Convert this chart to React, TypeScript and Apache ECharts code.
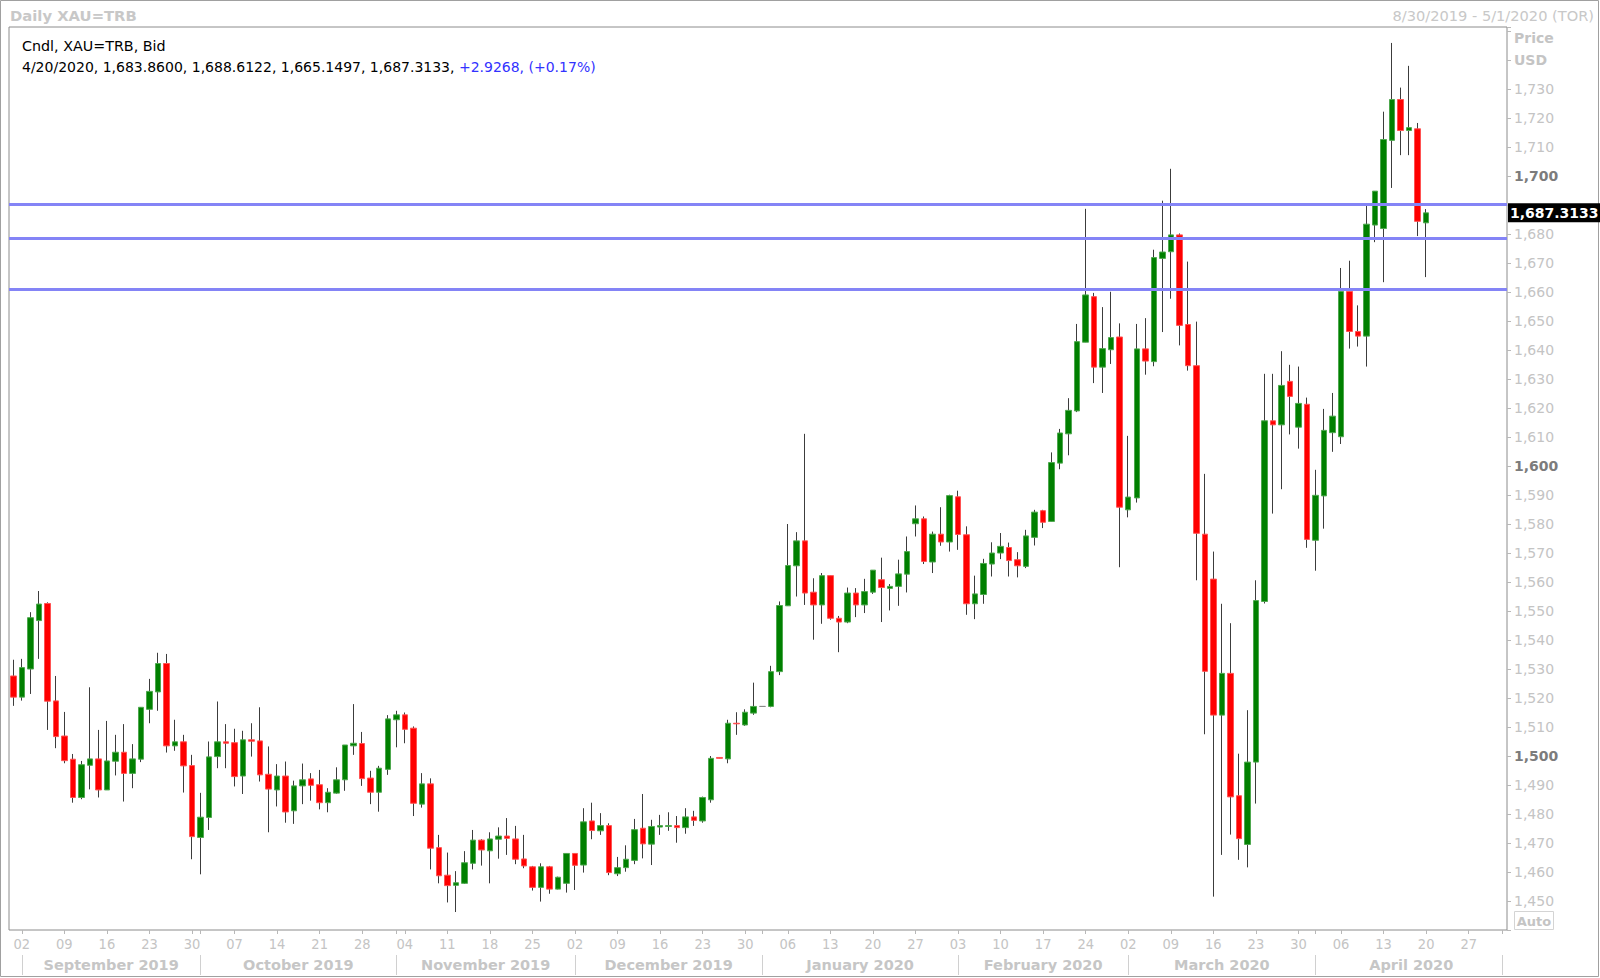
import React, { useEffect, useRef } from 'react';
import * as echarts from 'echarts';

const SYMBOL = 'XAU=TRB';
const START_DATE = '2019-08-30';
const END_DATE = '2020-05-01';

const opens = [
  1527.6, 1520.3, 1530.0, 1546.7, 1552.6, 1519.0, 1506.9, 1498.9, 1485.7, 1496.8,
  1499.0, 1488.3, 1498.2, 1501.3, 1494.0, 1498.9, 1516.1, 1522.1, 1531.9, 1503.5,
  1504.9, 1496.7, 1471.9, 1478.8, 1499.8, 1504.9, 1504.6, 1493.1, 1505.6, 1505.2,
  1493.7, 1488.3, 1493.1, 1481.1, 1489.7, 1492.1, 1490.1, 1483.9, 1487.2, 1491.8,
  1503.5, 1504.3, 1492.4, 1487.5, 1495.4, 1512.5, 1514.2, 1509.6, 1483.4, 1490.4,
  1468.4, 1458.9, 1455.4, 1456.1, 1463.0, 1471.0, 1467.3, 1471.3, 1472.4, 1471.4,
  1464.5, 1461.8, 1454.7, 1461.8, 1454.1, 1456.1, 1466.4, 1462.4, 1477.6, 1474.2,
  1476.0, 1459.4, 1461.5, 1464.0, 1475.1, 1469.6, 1475.5, 1475.7, 1476.0, 1475.3,
  1479.0, 1477.6, 1484.9, 1499.5, 1499.0, 1511.3, 1510.7, 1514.8, 1517.1, 1517.1,
  1529.1, 1551.8, 1565.6, 1574.2, 1556.5, 1552.1, 1562.2, 1547.5, 1546.2, 1556.2,
  1552.1, 1556.5, 1560.8, 1557.8, 1558.5, 1562.7, 1580.1, 1581.8, 1566.9, 1576.5,
  1573.8, 1589.4, 1576.3, 1552.5, 1555.7, 1566.2, 1570.0, 1571.9, 1567.7, 1565.4,
  1575.4, 1584.6, 1580.9, 1601.0, 1611.1, 1619.0, 1642.7, 1658.4, 1634.1, 1640.1,
  1644.5, 1584.9, 1589.0, 1640.4, 1636.0, 1671.6, 1673.9, 1679.7, 1648.8, 1634.6,
  1576.5, 1561.0, 1514.1, 1528.5, 1486.3, 1469.5, 1497.9, 1553.3, 1615.6, 1614.2,
  1629.2, 1613.4, 1621.3, 1574.4, 1589.7, 1611.5, 1610.1, 1660.2, 1646.4, 1644.8,
  1683.1, 1681.9, 1712.3, 1726.4, 1715.7, 1716.3, 1683.86,
];

const highs = [
  1533.2, 1533.5, 1549.6, 1556.9, 1553.0, 1527.6, 1515.2, 1500.7, 1498.3, 1523.7,
  1509.0, 1512.1, 1507.3, 1511.0, 1504.1, 1516.8, 1526.6, 1535.6, 1535.2, 1512.5,
  1507.3, 1500.4, 1487.3, 1505.0, 1518.8, 1511.0, 1509.4, 1508.7, 1511.3, 1516.8,
  1503.3, 1497.2, 1498.1, 1491.5, 1497.4, 1494.1, 1495.2, 1488.9, 1496.1, 1503.8,
  1517.9, 1508.3, 1494.9, 1496.6, 1514.1, 1515.6, 1515.0, 1510.2, 1494.1, 1492.3,
  1472.8, 1466.7, 1460.3, 1467.2, 1474.5, 1471.3, 1473.7, 1475.4, 1478.6, 1475.9,
  1472.8, 1462.1, 1463.0, 1462.1, 1458.4, 1466.4, 1466.4, 1482.0, 1483.9, 1480.3,
  1476.8, 1465.2, 1469.2, 1478.3, 1486.9, 1478.0, 1479.7, 1480.6, 1479.3, 1482.0,
  1481.1, 1486.0, 1500.0, 1499.5, 1512.5, 1515.1, 1516.1, 1525.3, 1517.1, 1531.1,
  1553.3, 1580.0, 1577.2, 1611.1, 1561.3, 1563.1, 1562.2, 1548.3, 1558.1, 1557.9,
  1561.1, 1564.1, 1568.4, 1559.3, 1567.7, 1575.7, 1586.4, 1582.6, 1577.4, 1585.8,
  1590.1, 1591.5, 1579.2, 1562.2, 1568.0, 1573.7, 1576.9, 1573.6, 1570.3, 1578.0,
  1584.9, 1584.9, 1604.7, 1612.8, 1623.4, 1649.0, 1688.7, 1659.7, 1654.8, 1660.1,
  1649.2, 1610.4, 1649.0, 1651.0, 1674.6, 1691.5, 1702.5, 1680.2, 1670.5, 1649.8,
  1597.3, 1570.5, 1552.5, 1545.8, 1500.8, 1515.8, 1560.6, 1631.8, 1631.8, 1639.6,
  1634.9, 1634.3, 1623.6, 1598.7, 1619.7, 1625.2, 1668.3, 1670.8, 1655.4, 1689.8,
  1694.8, 1722.2, 1745.9, 1730.5, 1738.0, 1718.3, 1688.6122,
];

const lows = [
  1517.3, 1519.1, 1521.4, 1533.5, 1509.0, 1502.7, 1497.5, 1483.9, 1485.1, 1488.5,
  1485.7, 1488.3, 1493.3, 1484.3, 1488.9, 1497.9, 1511.3, 1515.6, 1501.2, 1501.8,
  1487.4, 1464.4, 1459.2, 1474.5, 1495.8, 1495.8, 1489.5, 1486.9, 1499.8, 1491.2,
  1473.7, 1482.6, 1477.0, 1476.6, 1483.4, 1484.6, 1481.6, 1480.6, 1487.0, 1488.0,
  1500.4, 1489.7, 1483.4, 1480.8, 1493.5, 1503.0, 1504.4, 1479.3, 1482.2, 1460.9,
  1456.1, 1449.5, 1446.2, 1455.9, 1460.9, 1462.2, 1456.1, 1464.6, 1465.9, 1462.7,
  1461.3, 1453.6, 1449.8, 1452.5, 1454.0, 1452.9, 1453.8, 1459.8, 1471.3, 1472.8,
  1458.9, 1458.6, 1460.1, 1462.7, 1464.7, 1462.4, 1472.8, 1474.2, 1470.1, 1473.2,
  1475.9, 1477.0, 1483.9, 1499.2, 1497.5, 1507.3, 1510.4, 1514.2, 1517.1, 1516.8,
  1527.9, 1551.8, 1555.0, 1552.1, 1540.1, 1545.6, 1547.0, 1535.8, 1545.8, 1547.9,
  1549.3, 1555.9, 1546.2, 1550.2, 1551.8, 1556.4, 1575.7, 1566.2, 1563.1, 1572.5,
  1570.5, 1571.1, 1548.7, 1547.2, 1552.5, 1561.9, 1567.9, 1561.9, 1561.6, 1564.8,
  1572.6, 1578.6, 1580.9, 1598.9, 1603.7, 1618.6, 1642.7, 1628.6, 1625.2, 1635.2,
  1565.1, 1582.3, 1587.4, 1631.5, 1634.4, 1646.2, 1657.7, 1641.6, 1632.9, 1560.6,
  1507.5, 1451.5, 1465.9, 1472.9, 1464.2, 1461.6, 1483.6, 1552.6, 1583.6, 1592.0,
  1610.9, 1606.0, 1571.8, 1563.9, 1578.4, 1604.9, 1607.6, 1640.5, 1641.2, 1634.3,
  1677.2, 1663.4, 1695.9, 1707.2, 1707.2, 1679.3, 1665.1497,
];

const closes = [
  1520.3, 1530.5, 1547.7, 1552.4, 1518.9, 1506.7, 1498.4, 1485.7, 1497.0, 1499.0,
  1488.3, 1498.3, 1501.3, 1494.0, 1499.0, 1516.8, 1522.3, 1531.9, 1503.5, 1504.9,
  1496.6, 1472.2, 1478.9, 1499.7, 1504.9, 1504.4, 1492.9, 1505.6, 1505.1, 1493.5,
  1488.6, 1493.1, 1480.7, 1489.7, 1491.8, 1489.9, 1483.9, 1487.5, 1491.8, 1503.8,
  1504.4, 1492.2, 1487.5, 1495.8, 1512.8, 1514.2, 1509.2, 1483.7, 1490.4, 1468.2,
  1458.7, 1455.3, 1456.3, 1463.2, 1471.0, 1467.6, 1471.4, 1472.4, 1471.6, 1464.4,
  1462.1, 1454.7, 1461.8, 1454.1, 1458.2, 1466.4, 1462.3, 1477.3, 1474.3, 1476.0,
  1459.8, 1461.5, 1464.4, 1474.6, 1469.7, 1475.7, 1476.0, 1476.0, 1475.3, 1479.0,
  1477.8, 1485.7, 1499.2, 1499.2, 1511.3, 1511.1, 1515.1, 1517.1, 1517.1, 1529.1,
  1551.9, 1565.7, 1574.2, 1556.2, 1552.1, 1562.2, 1547.5, 1546.2, 1556.2, 1552.1,
  1556.7, 1564.1, 1558.1, 1558.5, 1562.8, 1570.5, 1581.8, 1567.1, 1576.5, 1573.8,
  1589.8, 1576.4, 1552.5, 1555.9, 1566.4, 1570.0, 1572.3, 1567.4, 1565.6, 1575.9,
  1584.1, 1580.6, 1601.2, 1611.4, 1619.2, 1642.9, 1659.0, 1634.1, 1640.5, 1644.3,
  1585.8, 1589.3, 1640.4, 1636.2, 1671.9, 1673.8, 1679.7, 1648.5, 1634.6, 1576.8,
  1529.2, 1514.1, 1528.5, 1485.9, 1471.5, 1497.9, 1553.6, 1615.6, 1614.2, 1627.8,
  1624.0, 1621.6, 1574.7, 1589.9, 1612.3, 1617.2, 1660.2, 1646.4, 1644.8, 1683.4,
  1694.8, 1712.6, 1726.4, 1715.7, 1716.7, 1684.3865, 1687.3133,
];

const levels = [1690.4, 1678.4, 1660.8];

const Y_MIN = 1440;
const Y_MAX = 1751.4;
const Y_STEP = 10;

const MONTHS = ['January', 'February', 'March', 'April', 'May', 'June', 'July',
  'August', 'September', 'October', 'November', 'December'];

const FONT = '"DejaVu Sans", Verdana, sans-serif';
const FONT_NARROW = '"DejaVu Sans Condensed", "DejaVu Sans", sans-serif';

const GRID_LEFT = 9;
const GRID_TOP = 27;
const GRID_WIDTH = 1498;
const GRID_HEIGHT = 903;

function weekdayDates(start: string, end: string): string[] {
  const out: string[] = [];
  const d = new Date(start + 'T00:00:00Z');
  const e = new Date(end + 'T00:00:00Z');
  while (d.getTime() <= e.getTime()) {
    const w = d.getUTCDay();
    if (w !== 0 && w !== 6) out.push(d.toISOString().slice(0, 10));
    d.setUTCDate(d.getUTCDate() + 1);
  }
  return out;
}

function usDate(s: string) {
  const [y, m, d] = s.split('-');
  return `${+m}/${+d}/${y}`;
}

function fmt4(v: number) {
  return v.toLocaleString('en-US', { minimumFractionDigits: 4, maximumFractionDigits: 4 });
}

function buildOption() {
  const dates = weekdayDates(START_DATE, END_DATE);
  const n = opens.length;
  const SLOT = GRID_WIDTH / dates.length;

  const isMonday = dates.map((s) => new Date(s + 'T00:00:00Z').getUTCDay() === 1);
  const monthFirsts: number[] = [];
  dates.forEach((s, i) => {
    if (i > 0 && s.slice(5, 7) !== dates[i - 1].slice(5, 7)) monthFirsts.push(i);
  });
  const isMonthFirst = dates.map((_, i) => monthFirsts.includes(i));

  const monthLabels: Record<number, { text: string; key: string }> = {};
  const rich: Record<string, any> = {};
  for (let k = 0; k < monthFirsts.length; k++) {
    const a = monthFirsts[k];
    const b = k + 1 < monthFirsts.length ? monthFirsts[k + 1] : -1;
    if (b < 0) break;
    const isLast = k + 2 >= monthFirsts.length;
    const end = isLast ? dates.length - 0.5 : b;
    const mid = (a + end) / 2;
    const idx = Math.floor(mid);
    const frac = mid - idx;
    const key = 'm' + k;
    rich[key] = {
      color: '#c6c6c6', fontWeight: 'bold', fontSize: 14.5, fontFamily: FONT,
      padding: [0, 0, 0, 2 * frac * SLOT],
    };
    const s = dates[a];
    monthLabels[idx] = { text: `${MONTHS[+s.slice(5, 7) - 1]} ${s.slice(0, 4)}`, key };
  }

  const wickData = opens.map((o, i) => [o, closes[i], lows[i], highs[i]]);
  const bodyData = opens.map((o, i) => [o, closes[i], Math.min(o, closes[i]), Math.max(o, closes[i])]);

  const lastO = opens[n - 1];
  const lastH = highs[n - 1];
  const lastL = lows[n - 1];
  const lastC = closes[n - 1];
  const prevC = closes[n - 2];
  const chg = lastC - prevC;
  const pct = (chg / prevC) * 100;
  const sign = chg >= 0 ? '+' : '-';

  const line2a = `${usDate(dates[n - 1])}, ${fmt4(lastO)}, ${fmt4(lastH)}, ${fmt4(lastL)}, ${fmt4(lastC)}, `;
  const line2b = `${sign}${Math.abs(chg).toFixed(4)}, (${sign}${Math.abs(pct).toFixed(2)}%)`;

  return {
    animation: false,
    backgroundColor: '#ffffff',
    grid: {
      left: GRID_LEFT, top: GRID_TOP, width: GRID_WIDTH, height: GRID_HEIGHT,
      show: true, borderColor: '#8c8c8c', borderWidth: 1, backgroundColor: '#ffffff',
    },
    xAxis: [
      {
        type: 'category',
        data: dates,
        boundaryGap: true,
        position: 'bottom',
        axisLine: { show: false },
        axisTick: {
          show: true, alignWithLabel: true, length: 4,
          interval: (i: number) => isMonday[i] || isMonthFirst[i],
          lineStyle: { color: '#b8b8b8' },
        },
        axisLabel: {
          interval: (i: number) => isMonday[i],
          formatter: (v: string) => v.slice(8, 10),
          color: '#c4c4c4', fontSize: 14.5, fontFamily: FONT_NARROW, margin: 6,
        },
        splitLine: { show: false },
      },
      {
        type: 'category',
        data: dates,
        boundaryGap: true,
        position: 'bottom',
        offset: 25,
        axisLine: { show: false },
        axisTick: {
          show: true, alignWithLabel: true, length: 20,
          interval: (i: number) => isMonthFirst[i],
          lineStyle: { color: '#d0d0d0' },
        },
        axisLabel: {
          interval: (i: number) => monthLabels[i] !== undefined,
          formatter: (_v: string, i: number) => {
            const m = monthLabels[i];
            return m ? `{${m.key}|${m.text}}` : '';
          },
          rich,
          margin: 2,
        },
        splitLine: { show: false },
      },
    ],
    yAxis: {
      type: 'value',
      position: 'right',
      min: Y_MIN,
      max: Y_MAX,
      interval: Y_STEP,
      axisLine: { show: false },
      axisTick: { show: true, length: 4, lineStyle: { color: '#b8b8b8' } },
      splitLine: { show: false },
      axisLabel: {
        margin: 7,
        formatter: (v: number) => {
          if (v > 1735 || v < 1445 || Math.abs(v - 1690) < 0.01) return '';
          const s = Math.round(v).toLocaleString('en-US');
          return Math.round(v) % 100 === 0 ? `{b|${s}}` : `{n|${s}}`;
        },
        rich: {
          b: { color: '#7c7c7c', fontWeight: 'bold', fontSize: 14, fontFamily: FONT },
          n: { color: '#c4c4c4', fontSize: 14, fontFamily: FONT },
        },
      },
    },
    series: [
      {
        type: 'candlestick',
        name: 'wicks',
        data: wickData,
        barWidth: 1,
        silent: true,
        itemStyle: {
          color: '#3c3c3c', color0: '#3c3c3c',
          borderColor: '#3c3c3c', borderColor0: '#3c3c3c', borderColorDoji: '#3c3c3c',
          borderWidth: 1,
        },
      },
      {
        type: 'candlestick',
        name: SYMBOL,
        data: bodyData,
        barWidth: 6,
        silent: true,
        itemStyle: {
          color: '#008000', color0: '#ff0000',
          borderColor: '#4ea84e', borderColor0: '#ff5252', borderColorDoji: '#8a8a8a',
          borderWidth: 1,
        },
        markLine: {
          silent: true,
          symbol: ['none', 'none'],
          animation: false,
          data: levels.map((v) => ({
            yAxis: v,
            lineStyle: { color: '#8484f6', width: 3, type: 'solid' },
            label: { show: false },
          })),
        },
      },
    ],
    graphic: [
      {
        id: 'frame', type: 'rect', silent: true, z: 100,
        shape: { x: 0.5, y: 0.5, width: 1598, height: 976 },
        style: { fill: 'none', stroke: '#a0a0a0', lineWidth: 1 },
      },
      {
        id: 'title', type: 'text', x: 10, y: 15, silent: true,
        style: {
          text: `Daily ${SYMBOL}`, fill: '#c8c8c8', fontSize: 14.8, fontWeight: 'bold',
          fontFamily: FONT, align: 'left', verticalAlign: 'middle',
        },
      },
      {
        id: 'range', type: 'text', x: 1594, y: 15, silent: true,
        style: {
          text: `${usDate(START_DATE)} - ${usDate(END_DATE)} (TOR)`, fill: '#c8c8c8', fontSize: 14.6,
          fontFamily: FONT, align: 'right', verticalAlign: 'middle',
        },
      },
      {
        id: 'leg1', type: 'text', x: 22, y: 46, silent: true, z: 50,
        style: {
          text: `Cndl, ${SYMBOL}, Bid`, fill: '#000000', fontSize: 14.3,
          fontFamily: FONT, align: 'left', verticalAlign: 'middle',
        },
      },
      {
        id: 'leg2', type: 'text', x: 22, y: 67, silent: true, z: 50,
        style: {
          text: `{a|${line2a}}{b|${line2b}}`,
          align: 'left', verticalAlign: 'middle',
          rich: {
            a: { fill: '#000000', fontSize: 14, fontFamily: FONT },
            b: { fill: '#3232ff', fontSize: 14, fontFamily: FONT },
          },
        },
      },
      {
        id: 'price', type: 'text', x: 1514, y: 38, silent: true,
        style: {
          text: 'Price', fill: '#c4c4c4', fontSize: 14, fontWeight: 'bold',
          fontFamily: FONT, align: 'left', verticalAlign: 'middle',
        },
      },
      {
        id: 'usd', type: 'text', x: 1514, y: 60, silent: true,
        style: {
          text: 'USD', fill: '#c4c4c4', fontSize: 14, fontWeight: 'bold',
          fontFamily: FONT, align: 'left', verticalAlign: 'middle',
        },
      },
      {
        id: 'autoBox', type: 'rect', silent: true,
        shape: { x: 1514.5, y: 911.5, width: 39, height: 18 },
        style: { fill: '#ffffff', stroke: '#d4d4d4', lineWidth: 1 },
      },
      {
        id: 'autoText', type: 'text', x: 1534, y: 921, silent: true,
        style: {
          text: 'Auto', fill: '#c4c4c4', fontSize: 13, fontWeight: 'bold',
          fontFamily: FONT, align: 'center', verticalAlign: 'middle',
        },
      },
    ],
  };
}

export default function App() {
  const ref = useRef<HTMLDivElement>(null);
  useEffect(() => {
    document.body.style.margin = '0';
    document.body.style.background = '#ffffff';
    if (!ref.current) return;
    const chart = echarts.init(ref.current, null, { renderer: 'svg' });
    chart.setOption(buildOption() as any);
    const lastC = closes[closes.length - 1];
    const y = chart.convertToPixel({ yAxisIndex: 0 }, lastC) as number;
    chart.setOption({
      graphic: [
        {
          id: 'lastPrice', type: 'text', x: GRID_LEFT + GRID_WIDTH + 1, y, z: 120, silent: true,
          style: {
            text: fmt4(lastC), fill: '#ffffff', backgroundColor: '#000000',
            fontSize: 14, fontWeight: 'bold', fontFamily: FONT,
            align: 'left', verticalAlign: 'middle', padding: [3, 6, 2, 2],
          },
        },
      ],
    } as any);
    return () => {
      chart.dispose();
    };
  }, []);
  return <div ref={ref} style={{ width: 1600, height: 978 }} />;
}
